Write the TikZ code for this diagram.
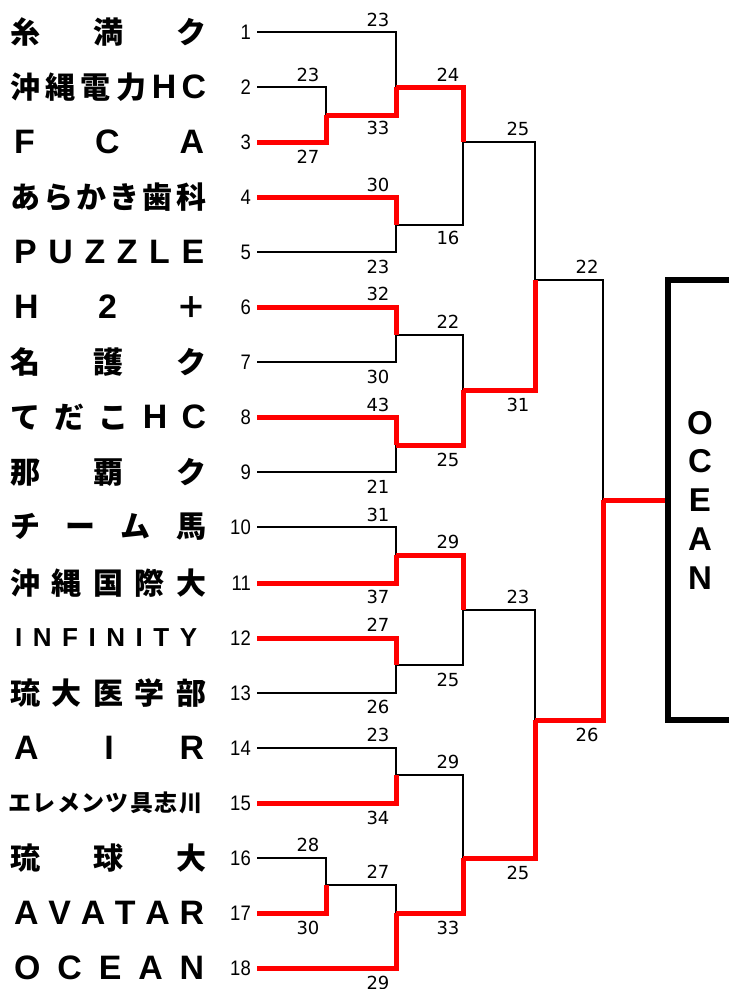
\documentclass[tikz,border=0pt]{standalone}
\usepackage{fontspec}
\usepackage{tikz}
\newfontfamily\jpfont{Noto Sans CJK JP Black}
\newfontfamily\latfont{Liberation Sans}[Scale=1.13]
\newfontfamily\numfont{Liberation Sans}[FakeStretch=0.88]
\newfontfamily\scorefont{DejaVu Sans}
\newfontfamily\boxfont{Liberation Sans}
\newcommand{\spreadname}[2]{\hbox to #1pt{#2}}
\newcommand{\lat}[1]{{\latfont\bfseries #1}}
\tikzset{
  teamname/.style={anchor=west, inner sep=0pt, font=\jpfont\fontsize{30}{30}\selectfont},
  smallname/.style={teamname, font=\jpfont\fontsize{23}{23}\selectfont},
  seed/.style={anchor=east, inner sep=0pt, font=\numfont\fontsize{21}{21}\selectfont},
  score/.style={inner sep=0pt, font=\scorefont\fontsize{18}{18}\selectfont},
  lose/.style={line width=1.6pt, black},
  win/.style={line width=5pt, red, line join=miter},
}

\begin{document}
\begin{tikzpicture}[x=1pt,y=-1pt]
		\useasboundingbox (0,0) rectangle (729,989);
		% teams
		\node[teamname] (t1) at (10,32) {\spreadname{196}{糸\hfill 満\hfill ク}};
		\node[teamname] (t2) at (10,87) {\spreadname{196}{沖\hfill 縄\hfill 電\hfill 力\hfill \lat{H}\hfill \lat{C}}};
		\node[teamname] (t3) at (14,142) {\spreadname{190}{\lat{F}\hfill \lat{C}\hfill \lat{A}}};
		\node[teamname] (t4) at (10,197) {\spreadname{196}{あ\hfill ら\hfill か\hfill き\hfill 歯\hfill 科}};
		\node[teamname] (t5) at (14,252) {\spreadname{190}{\lat{P}\hfill \lat{U}\hfill \lat{Z}\hfill \lat{Z}\hfill \lat{L}\hfill \lat{E}}};
		\node[teamname] (t6) at (14,307) {\spreadname{192}{\lat{H}\hfill \lat{2}\hfill ＋}};
		\node[teamname] (t7) at (10,362) {\spreadname{196}{名\hfill 護\hfill ク}};
		\node[teamname] (t8) at (10,417) {\spreadname{196}{て\hfill だ\hfill こ\hfill \lat{H}\hfill \lat{C}}};
		\node[teamname] (t9) at (10,472) {\spreadname{196}{那\hfill 覇\hfill ク}};
		\node[teamname] (t10) at (10,527) {\spreadname{196}{チ\hfill ー\hfill ム\hfill 馬}};
		\node[teamname] (t11) at (10,583) {\spreadname{196}{沖\hfill 縄\hfill 国\hfill 際\hfill 大}};
		\node[smallname] (t12) at (15,638) {\spreadname{182}{\lat{I}\hfill \lat{N}\hfill \lat{F}\hfill \lat{I}\hfill \lat{N}\hfill \lat{I}\hfill \lat{T}\hfill \lat{Y}}};
		\node[teamname] (t13) at (10,693) {\spreadname{196}{琉\hfill 大\hfill 医\hfill 学\hfill 部}};
		\node[teamname] (t14) at (14,748) {\spreadname{190}{\lat{A}\hfill \lat{I}\hfill \lat{R}}};
		\node[smallname] (t15) at (8,803) {\spreadname{194}{エ\hfill レ\hfill メ\hfill ン\hfill ツ\hfill 具\hfill 志\hfill 川}};
		\node[teamname] (t16) at (10,858) {\spreadname{196}{琉\hfill 球\hfill 大}};
		\node[teamname] (t17) at (14,913) {\spreadname{190}{\lat{A}\hfill \lat{V}\hfill \lat{A}\hfill \lat{T}\hfill \lat{A}\hfill \lat{R}}};
		\node[teamname] (t18) at (14,968) {\spreadname{190}{\lat{O}\hfill \lat{C}\hfill \lat{E}\hfill \lat{A}\hfill \lat{N}}};
		% seeds and line starts
		\node[seed] (n1) at (251,32) {1};   \coordinate (s1) at (257,32);
		\node[seed] (n2) at (251,87) {2};   \coordinate (s2) at (257,87);
		\node[seed] (n3) at (251,142) {3};  \coordinate (s3) at (257,142);
		\node[seed] (n4) at (251,197) {4};  \coordinate (s4) at (257,197);
		\node[seed] (n5) at (251,252) {5};  \coordinate (s5) at (257,252);
		\node[seed] (n6) at (251,307) {6};  \coordinate (s6) at (257,307);
		\node[seed] (n7) at (251,362) {7};  \coordinate (s7) at (257,362);
		\node[seed] (n8) at (251,417) {8};  \coordinate (s8) at (257,417);
		\node[seed] (n9) at (251,472) {9};  \coordinate (s9) at (257,472);
		\node[seed] (n10) at (251,527) {10}; \coordinate (s10) at (257,527);
		\node[seed] (n11) at (251,583) {11}; \coordinate (s11) at (257,583);
		\node[seed] (n12) at (251,638) {12}; \coordinate (s12) at (257,638);
		\node[seed] (n13) at (251,693) {13}; \coordinate (s13) at (257,693);
		\node[seed] (n14) at (251,748) {14}; \coordinate (s14) at (257,748);
		\node[seed] (n15) at (251,803) {15}; \coordinate (s15) at (257,803);
		\node[seed] (n16) at (251,858) {16}; \coordinate (s16) at (257,858);
		\node[seed] (n17) at (251,913) {17}; \coordinate (s17) at (257,913);
		\node[seed] (n18) at (251,968) {18}; \coordinate (s18) at (257,968);
		% match points
		\coordinate (ma) at (326,115);
		\coordinate (mb) at (396,87);
		\coordinate (mc) at (396,225);
		\coordinate (md) at (463,142);
		\coordinate (me) at (396,335);
		\coordinate (mf) at (396,445);
		\coordinate (mg) at (463,390);
		\coordinate (mh) at (535,280);
		\coordinate (mi) at (396,555);
		\coordinate (mj) at (396,665);
		\coordinate (mk) at (463,610);
		\coordinate (ml) at (396,775);
		\coordinate (mm) at (326,885);
		\coordinate (mn) at (396,913);
		\coordinate (mo) at (463,858);
		\coordinate (mp) at (535,720);
		\coordinate (mq) at (603,500);
		% losers
		\draw[lose] (s2) -| (ma);
		\draw[lose] (s1) -| (mb);
		\draw[lose] (s5) -| (mc);
		\draw[lose] (mc) -| (md);
		\draw[lose] (s7) -| (me);
		\draw[lose] (s9) -| (mf);
		\draw[lose] (me) -| (mg);
		\draw[lose] (md) -| (mh);
		\draw[lose] (s10) -| (mi);
		\draw[lose] (s13) -| (mj);
		\draw[lose] (mj) -| (mk);
		\draw[lose] (s14) -| (ml);
		\draw[lose] (s16) -| (mm);
		\draw[lose] (mm) -| (mn);
		\draw[lose] (ml) -| (mo);
		\draw[lose] (mk) -| (mp);
		\draw[lose] (mh) -| (mq);
		% winners
		\draw[win] (s3) -| (ma);
		\draw[win] (ma) -| (mb);
		\draw[win] (s4) -| (mc);
		\draw[win] (mb) -| (md);
		\draw[win] (s6) -| (me);
		\draw[win] (s8) -| (mf);
		\draw[win] (mf) -| (mg);
		\draw[win] (mg) -| (mh);
		\draw[win] (s11) -| (mi);
		\draw[win] (s12) -| (mj);
		\draw[win] (mi) -| (mk);
		\draw[win] (s15) -| (ml);
		\draw[win] (s17) -| (mm);
		\draw[win] (s18) -| (mn);
		\draw[win] (mn) -| (mo);
		\draw[win] (mo) -| (mp);
		\draw[win] (mp) -| (mq);
		% champion
		\node[draw, line width=5.5pt, outer sep=0pt, minimum width=64pt, minimum height=440pt, align=center,
			font=\boxfont\bfseries\fontsize{33}{38.75}\selectfont] (champ) at (700,500) {O\\C\\E\\A\\N};
		\draw[win] (mq) -- (champ.west);
		\draw[line width=5.5pt] (champ.north west) -- (champ.south west);
		% scores
		\node[score] (a1) at (378,20) {23};
		\node[score] (a2) at (308,75) {23};
		\node[score] (a3) at (308,157) {27};
		\node[score] (a4) at (378,128) {33};
		\node[score] (a5) at (448,75) {24};
		\node[score] (a6) at (378,185) {30};
		\node[score] (a7) at (448,238) {16};
		\node[score] (a8) at (378,267) {23};
		\node[score] (a9) at (518,129) {25};
		\node[score] (a10) at (587,267) {22};
		\node[score] (a11) at (378,294) {32};
		\node[score] (a12) at (448,322) {22};
		\node[score] (a13) at (378,377) {30};
		\node[score] (a14) at (378,405) {43};
		\node[score] (a15) at (448,460) {25};
		\node[score] (a16) at (378,487) {21};
		\node[score] (a17) at (518,405) {31};
		\node[score] (a18) at (378,515) {31};
		\node[score] (a19) at (448,542) {29};
		\node[score] (a20) at (378,597) {37};
		\node[score] (a21) at (378,625) {27};
		\node[score] (a22) at (448,680) {25};
		\node[score] (a23) at (378,707) {26};
		\node[score] (a24) at (518,597) {23};
		\node[score] (a25) at (587,735) {26};
		\node[score] (a26) at (378,735) {23};
		\node[score] (a27) at (448,762) {29};
		\node[score] (a28) at (378,818) {34};
		\node[score] (a29) at (308,845) {28};
		\node[score] (a30) at (378,872) {27};
		\node[score] (a31) at (308,928) {30};
		\node[score] (a32) at (448,928) {33};
		\node[score] (a33) at (518,873) {25};
		\node[score] (a34) at (378,983) {29};
\end{tikzpicture}
\end{document}
